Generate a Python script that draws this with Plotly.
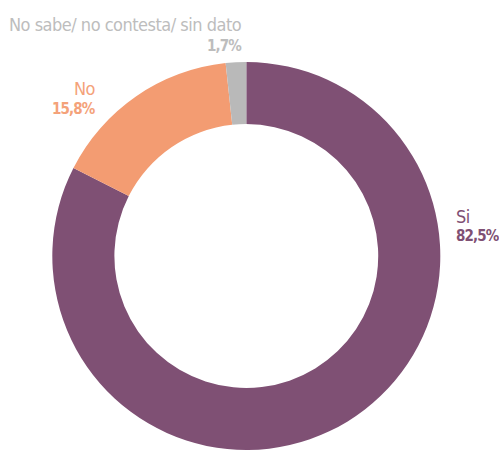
import plotly.graph_objects as go

categories = ["Si", "No", "No sabe/ no contesta/ sin dato"]
values = [82.5, 15.8, 1.7]
slice_colors = ["#7f5074", "#f39c72", "#b9b9b9"]
text_colors = ["#7f5074", "#f4a27a", "#bdbdbd"]

W, H = 499, 450
FONT = "DejaVu Sans Condensed, Liberation Sans Narrow, sans-serif"

fig = go.Figure(go.Pie(
    labels=categories,
    values=values,
    sort=False,
    direction="clockwise",
    rotation=0,
    hole=0.68,
    marker=dict(colors=slice_colors, line=dict(width=0)),
    textinfo="none",
    hoverinfo="label+percent",
    domain=dict(x=[0.0, 0.9872], y=[0.0, 0.8622]),
    showlegend=False,
))

def fmt(v):
    return f"{v:.1f}".replace(".", ",") + "%"

# label positions: (x px, y px of name line centre, anchor, line gap)
label_pos = [
    (455, 216, "left", 20),
    (97, 88, "right", 21),
    (243, 24, "right", 22),
]
anns = []
for cat, v, col, (px, py, anchor, gap) in zip(categories, values, text_colors, label_pos):
    anns.append(dict(x=px / W, y=1 - py / H, xref="paper", yref="paper",
                     text=f"<span style='letter-spacing:-0.5px'>{cat}</span>",
                     showarrow=False, xanchor=anchor, yanchor="middle", borderpad=0,
                     font=dict(family=FONT, size=18, color=col)))
    anns.append(dict(x=px / W, y=1 - (py + gap) / H, xref="paper", yref="paper",
                     text=f"<span style='letter-spacing:-0.9px'><b>{fmt(v)}</b></span>",
                     showarrow=False, xanchor=anchor, yanchor="middle", borderpad=0,
                     font=dict(family=FONT, size=15, color=col)))

fig.update_layout(
    width=W, height=H,
    margin=dict(l=0, r=0, t=0, b=0),
    paper_bgcolor="white", plot_bgcolor="white",
    annotations=anns,
)

fig.write_html("out.html", config={"displayModeBar": False},
               post_script="document.body.style.margin='0';")
